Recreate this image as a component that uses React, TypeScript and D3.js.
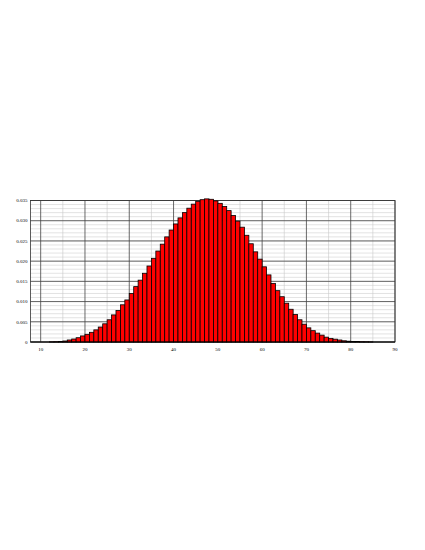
import { useEffect, useRef } from "react";
import * as d3 from "d3";

// bar k spans [k, k+1]
const binStarts = [
  12, 13, 14, 15, 16, 17, 18, 19, 20, 21, 22, 23, 24, 25, 26, 27, 28, 29, 30, 31,
  32, 33, 34, 35, 36, 37, 38, 39, 40, 41, 42, 43, 44, 45, 46, 47, 48, 49, 50, 51,
  52, 53, 54, 55, 56, 57, 58, 59, 60, 61, 62, 63, 64, 65, 66, 67, 68, 69, 70, 71,
  72, 73, 74, 75, 76, 77, 78, 79, 80, 81, 82, 83, 84,
];
const density = [
  0.00003, 0.00006, 0.0001, 0.00025, 0.0005, 0.00074, 0.00106, 0.0015, 0.0019, 0.0024,
  0.003, 0.0037, 0.0045, 0.0055, 0.0067, 0.0078, 0.0092, 0.0104, 0.012, 0.0137,
  0.0153, 0.017, 0.0188, 0.0207, 0.0225, 0.0242, 0.026, 0.0277, 0.0292, 0.0307,
  0.032, 0.0331, 0.0341, 0.0348, 0.0352, 0.0354, 0.0353, 0.0349, 0.0343, 0.0335,
  0.0325, 0.0313, 0.0299, 0.0284, 0.0264, 0.0243, 0.0223, 0.0205, 0.0186, 0.0166,
  0.0145, 0.0127, 0.0112, 0.0096, 0.0081, 0.0068, 0.0055, 0.0044, 0.0035, 0.0028,
  0.0022, 0.0017, 0.0012, 0.0009, 0.0007, 0.0005, 0.0003, 0.0002, 0.00015, 0.0001,
  0.00006, 0.00004, 0.00002,
];
const xTicks = [10, 20, 30, 40, 50, 60, 70, 80, 90];
const yTicks = [0, 0.005, 0.01, 0.015, 0.02, 0.025, 0.03, 0.035];

const App = () => {
  const ref = useRef<SVGSVGElement>(null);

  useEffect(() => {
    const w = 425;
    const h = 550;
    const svg = d3.select(ref.current).attr("width", w).attr("height", h);
    svg.selectAll("*").remove();

    const x = d3.scaleLinear().domain([7.7, 90]).range([30.5, 395]);
    const y = d3.scaleLinear().domain([0, 0.035]).range([342, 200.5]);

    const g = svg.append("g");

    // minor grid
    g.selectAll(".ym")
      .data(d3.range(0, 0.0351, 0.001))
      .join("line")
      .attr("x1", x(7.7)).attr("x2", x(90))
      .attr("y1", (d) => y(d)).attr("y2", (d) => y(d))
      .attr("stroke", "#d0d0d0").attr("stroke-width", 0.6);
    g.selectAll(".xm")
      .data(d3.range(15, 90, 10))
      .join("line")
      .attr("x1", (d) => x(d)).attr("x2", (d) => x(d))
      .attr("y1", y(0)).attr("y2", y(0.035))
      .attr("stroke", "#c8c8c8").attr("stroke-width", 0.6);

    // major grid
    g.selectAll(".yM")
      .data(yTicks)
      .join("line")
      .attr("x1", x(7.7)).attr("x2", x(90))
      .attr("y1", (d) => y(d)).attr("y2", (d) => y(d))
      .attr("stroke", "#444").attr("stroke-width", 0.8);
    g.selectAll(".xM")
      .data(xTicks)
      .join("line")
      .attr("x1", (d) => x(d)).attr("x2", (d) => x(d))
      .attr("y1", y(0)).attr("y2", y(0.035))
      .attr("stroke", "#444").attr("stroke-width", 0.8);

    // frame
    g.append("rect")
      .attr("x", x(7.7)).attr("y", y(0.035))
      .attr("width", x(90) - x(7.7)).attr("height", y(0) - y(0.035))
      .attr("fill", "none").attr("stroke", "#333").attr("stroke-width", 0.8);

    // bars
    g.selectAll(".bar")
      .data(binStarts)
      .join("rect")
      .attr("x", (d) => x(d))
      .attr("width", (d) => x(d + 1) - x(d))
      .attr("y", (d, i) => y(density[i]))
      .attr("height", (d, i) => y(0) - y(density[i]))
      .attr("fill", "#ff0000")
      .attr("stroke", "#000")
      .attr("stroke-width", 0.8);

    // baseline
    g.append("line")
      .attr("x1", x(7.7)).attr("x2", x(90))
      .attr("y1", y(0)).attr("y2", y(0))
      .attr("stroke", "#000").attr("stroke-width", 1);

    // labels
    g.selectAll(".yl")
      .data(yTicks)
      .join("text")
      .attr("x", x(7.7) - 3)
      .attr("y", (d) => y(d))
      .attr("dy", "0.35em")
      .attr("text-anchor", "end")
      .attr("font-family", "Liberation Serif")
      .attr("font-size", 5)
      .attr("fill", "#000")
      .text((d) => (d === 0 ? "0" : d3.format(".3f")(d)));
    g.selectAll(".xl")
      .data(xTicks)
      .join("text")
      .attr("x", (d) => x(d))
      .attr("y", y(0) + 8.5)
      .attr("text-anchor", "middle")
      .attr("font-family", "Liberation Serif")
      .attr("font-size", 5)
      .attr("fill", "#000")
      .text((d) => d);
  }, []);

  return (
    <svg
      ref={ref}
      style={{ position: "absolute", left: 0, top: 0, display: "block", background: "#fff" }}
    ></svg>
  );
};

export default App;
